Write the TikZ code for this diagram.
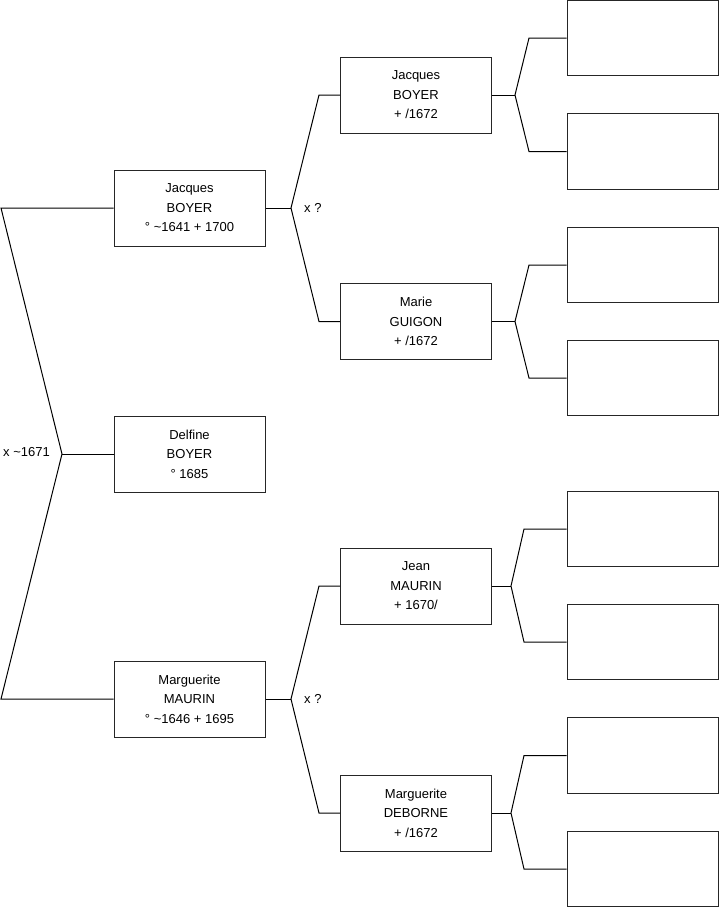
\documentclass[tikz,border=0pt]{standalone}
\usepackage{fontspec}
\setmainfont{Liberation Sans}
\usetikzlibrary{positioning}
\begin{document}
\begin{tikzpicture}[x=1pt, y=-1pt]
    % Define styles
    \tikzstyle{person} = [rectangle, draw=black!85, line width=1pt, minimum width=151pt, minimum height=76pt, inner sep=0pt, align=center, font=\fontsize{13}{19.5}\selectfont]
    \tikzstyle{unknown} = [rectangle, draw=black!85, line width=1pt, minimum width=151pt, minimum height=75.5pt, inner sep=0pt]
    \tikzstyle{link} = [draw=black, line width=1pt]
    \tikzstyle{marriage} = [anchor=west, inner sep=0pt, font=\fontsize{13}{15}\selectfont]

    \useasboundingbox (0,0) rectangle (719,908);

    % Child and parents
    \node[person] (delfine) at (189.5,454) {Delfine\\BOYER\\° 1685};
    \node[person] (jacques) at (189.5,208) {Jacques\\BOYER\\° \textasciitilde1641 + 1700};
    \node[person] (marguerite) at (189.5,699) {Marguerite\\MAURIN\\° \textasciitilde1646 + 1695};

    % Grandparents
    \node[person] (jacquesp) at (416,95) {Jacques\\BOYER\\+ /1672};
    \node[person] (marie) at (416,321.5) {Marie\\GUIGON\\+ /1672};
    \node[person] (jean) at (416,586) {Jean\\MAURIN\\+ 1670/};
    \node[person] (deborne) at (416,813) {Marguerite\\DEBORNE\\+ /1672};

    % Great-grandparents (empty boxes)
    \node[unknown] (gg1) at (642.5,38) {};
    \node[unknown] (gg2) at (642.5,151.5) {};
    \node[unknown] (gg3) at (642.5,265) {};
    \node[unknown] (gg4) at (642.5,378) {};
    \node[unknown] (gg5) at (642.5,529) {};
    \node[unknown] (gg6) at (642.5,642) {};
    \node[unknown] (gg7) at (642.5,755.5) {};
    \node[unknown] (gg8) at (642.5,869) {};

    % Junction points
    \coordinate (rootup) at (1,208);
    \coordinate (root) at (62,454);
    \coordinate (rootdown) at (1,699);
    \coordinate (boyer) at (291,208);
    \coordinate (boyerup) at (319,95);
    \coordinate (boyerdown) at (319,321.5);
    \coordinate (maurin) at (291,699);
    \coordinate (maurinup) at (319,586);
    \coordinate (maurindown) at (319,813);
    \coordinate (jp) at (515,95);
    \coordinate (jpup) at (529,38);
    \coordinate (jpdown) at (529,151.5);
    \coordinate (mg) at (515,321.5);
    \coordinate (mgup) at (529,265);
    \coordinate (mgdown) at (529,378);
    \coordinate (jm) at (511,586);
    \coordinate (jmup) at (524,529);
    \coordinate (jmdown) at (524,642);
    \coordinate (md) at (511,813);
    \coordinate (mdup) at (524,755.5);
    \coordinate (mddown) at (524,869);

    % Marriage labels
    \node[marriage] (wed) at (3,452) {x \textasciitilde1671};
    \node[marriage] (wedboyer) at (304,208) {x ?};
    \node[marriage] (wedmaurin) at (304,699) {x ?};

    % Child connections
    \draw[link] (jacques.west) -- (rootup) -- (root) -- (rootdown) -- (marguerite.west);
    \draw[link] (root) -- (delfine.west);

    % Parent connections
    \draw[link] (jacques.east) -- (boyer);
    \draw[link] (jacquesp.west) -- (boyerup) -- (boyer) -- (boyerdown) -- (marie.west);
    \draw[link] (marguerite.east) -- (maurin);
    \draw[link] (jean.west) -- (maurinup) -- (maurin) -- (maurindown) -- (deborne.west);

    % Grandparent connections
    \draw[link] (jacquesp.east) -- (jp);
    \draw[link] (gg1.west) -- (jpup) -- (jp) -- (jpdown) -- (gg2.west);
    \draw[link] (marie.east) -- (mg);
    \draw[link] (gg3.west) -- (mgup) -- (mg) -- (mgdown) -- (gg4.west);
    \draw[link] (jean.east) -- (jm);
    \draw[link] (gg5.west) -- (jmup) -- (jm) -- (jmdown) -- (gg6.west);
    \draw[link] (deborne.east) -- (md);
    \draw[link] (gg7.west) -- (mdup) -- (md) -- (mddown) -- (gg8.west);

\end{tikzpicture}
\end{document}
